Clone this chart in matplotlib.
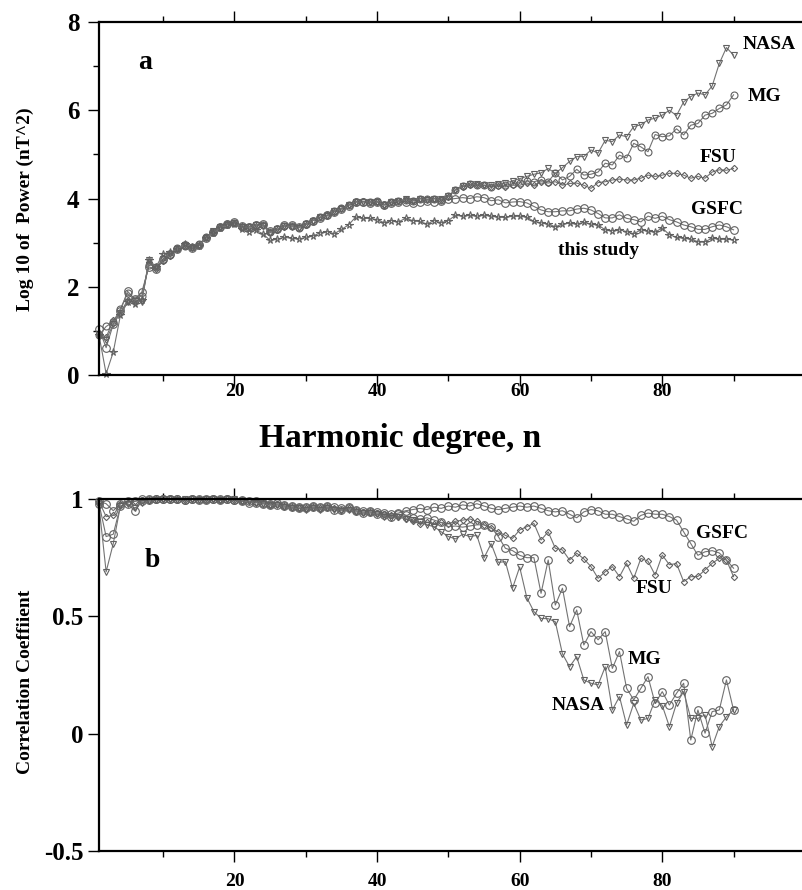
import numpy as np
import matplotlib
matplotlib.use("Agg")
import matplotlib.pyplot as plt
from matplotlib.ticker import MultipleLocator, FixedLocator

plt.rcParams["font.family"] = ["Liberation Serif", "DejaVu Serif"]
plt.rcParams["font.weight"] = "bold"

DEGREE = np.arange(1, 91)

# panel a: log10 power (nT^2)
POWER_GSFC = [
    1.05, 0.62, 1.15, 1.45, 1.9, 1.72, 1.88, 2.45, 2.4, 2.62,
    2.75, 2.85, 2.95, 2.88, 2.95, 3.1, 3.25, 3.35, 3.42, 3.46,
    3.38, 3.36, 3.4, 3.42, 3.26, 3.3, 3.4, 3.4, 3.36, 3.42,
    3.5, 3.56, 3.62, 3.7, 3.76, 3.84, 3.92, 3.93, 3.9, 3.92,
    3.86, 3.9, 3.92, 3.93, 3.9, 3.93, 3.95, 3.92, 3.95, 3.98,
    4.0, 4.02, 4.0, 4.04, 4.02, 3.95, 3.97, 3.9, 3.92, 3.93,
    3.9, 3.82, 3.74, 3.7, 3.7, 3.72, 3.72, 3.76, 3.78, 3.74,
    3.66, 3.56, 3.56, 3.63, 3.55, 3.52, 3.47, 3.6, 3.55, 3.6,
    3.52, 3.47, 3.4, 3.36, 3.3, 3.3, 3.36, 3.4, 3.36, 3.29,
]
POWER_MG = [
    0.9, 1.1, 1.2, 1.5, 1.85, 1.7, 1.8, 2.5, 2.45, 2.6,
    2.72, 2.88, 2.92, 2.9, 2.96, 3.12, 3.25, 3.36, 3.42, 3.45,
    3.36, 3.36, 3.4, 3.4, 3.24, 3.3, 3.38, 3.38, 3.34, 3.42,
    3.5, 3.58, 3.62, 3.72, 3.78, 3.86, 3.93, 3.93, 3.92, 3.94,
    3.86, 3.92, 3.95, 3.97, 3.95, 4.0, 3.98, 4.0, 3.97, 4.05,
    4.2, 4.28, 4.32, 4.3, 4.3, 4.26, 4.3, 4.3, 4.33, 4.36,
    4.4, 4.38, 4.42, 4.38, 4.58, 4.42, 4.5, 4.66, 4.53, 4.55,
    4.6, 4.8, 4.76, 4.98, 4.92, 5.25, 5.17, 5.06, 5.45, 5.4,
    5.42, 5.58, 5.44, 5.66, 5.7, 5.89, 5.93, 6.04, 6.12, 6.35,
]
POWER_FSU = [
    0.95, 0.85, 1.25, 1.4, 1.7, 1.65, 1.7, 2.55, 2.4, 2.58,
    2.7, 2.85, 2.93, 2.9, 2.94, 3.12, 3.24, 3.35, 3.42, 3.44,
    3.38, 3.35, 3.38, 3.4, 3.25, 3.28, 3.36, 3.38, 3.35, 3.4,
    3.5, 3.57, 3.62, 3.7, 3.78, 3.85, 3.92, 3.94, 3.92, 3.93,
    3.86, 3.92, 3.94, 3.97, 3.94, 4.0, 3.98, 4.0, 3.97, 4.04,
    4.2, 4.27, 4.3, 4.3, 4.3, 4.27, 4.28, 4.26, 4.3, 4.3,
    4.35, 4.3, 4.38, 4.35, 4.38, 4.3, 4.34, 4.35, 4.3, 4.23,
    4.36, 4.38, 4.42, 4.44, 4.42, 4.42, 4.46, 4.53, 4.5, 4.53,
    4.57, 4.57, 4.53, 4.46, 4.5, 4.46, 4.6, 4.65, 4.64, 4.68,
]
POWER_NASA = [
    0.85, 0.8, 1.15, 1.4, 1.65, 1.68, 1.65, 2.6, 2.45, 2.62,
    2.75, 2.85, 2.95, 2.88, 2.92, 3.1, 3.26, 3.35, 3.4, 3.45,
    3.36, 3.35, 3.4, 3.38, 3.22, 3.3, 3.38, 3.36, 3.33, 3.42,
    3.5, 3.58, 3.6, 3.72, 3.76, 3.85, 3.93, 3.92, 3.93, 3.93,
    3.85, 3.92, 3.95, 3.98, 3.95, 4.0, 3.97, 4.0, 3.98, 4.05,
    4.2, 4.28, 4.32, 4.32, 4.3, 4.3, 4.32, 4.35, 4.4, 4.45,
    4.5, 4.55, 4.58, 4.68, 4.57, 4.7, 4.84, 4.95, 4.95, 5.1,
    5.03, 5.32, 5.29, 5.44, 5.4, 5.63, 5.67, 5.78, 5.82, 5.89,
    6.0, 5.88, 6.19, 6.31, 6.39, 6.35, 6.55, 7.06, 7.42, 7.25,
]
POWER_THIS = [
    0.9, 0.03, 0.52, 1.35, 1.65, 1.62, 1.7, 2.6, 2.45, 2.75,
    2.78, 2.85, 2.98, 2.9, 2.92, 3.1, 3.22, 3.33, 3.4, 3.42,
    3.3, 3.25, 3.28, 3.2, 3.05, 3.08, 3.12, 3.1, 3.08, 3.12,
    3.15, 3.22, 3.25, 3.2, 3.3, 3.4, 3.58, 3.55, 3.55, 3.52,
    3.45, 3.5, 3.47, 3.55, 3.5, 3.48, 3.42, 3.5, 3.45, 3.5,
    3.62, 3.6, 3.62, 3.6, 3.62, 3.6, 3.58, 3.57, 3.6, 3.6,
    3.58, 3.48, 3.45, 3.42, 3.36, 3.42, 3.44, 3.42, 3.46, 3.42,
    3.4, 3.29, 3.27, 3.29, 3.25, 3.2, 3.29, 3.26, 3.24, 3.33,
    3.18, 3.12, 3.1, 3.08, 3.02, 3.02, 3.1, 3.08, 3.08, 3.06,
]

# panel b: correlation coefficient with this study
CORR_GSFC = [
    0.99, 0.98, 0.95, 0.98, 0.99, 0.99, 1.0, 1.0, 1.0, 1.0,
    1.0, 1.0, 0.995, 1.0, 1.0, 0.995, 1.0, 1.0, 1.0, 0.995,
    0.995, 0.99, 0.99, 0.985, 0.98, 0.985, 0.975, 0.97, 0.965, 0.965,
    0.97, 0.965, 0.97, 0.965, 0.96, 0.965, 0.955, 0.95, 0.95, 0.945,
    0.94, 0.935, 0.94, 0.95, 0.955, 0.96, 0.955, 0.965, 0.96, 0.97,
    0.965, 0.975, 0.97, 0.98, 0.97, 0.96, 0.955, 0.96, 0.965, 0.97,
    0.965, 0.97, 0.96, 0.95, 0.945, 0.95, 0.935, 0.92, 0.945, 0.955,
    0.95, 0.935, 0.935, 0.925, 0.915, 0.905, 0.93, 0.94, 0.935, 0.935,
    0.925, 0.91, 0.86, 0.81, 0.76, 0.775, 0.78, 0.77, 0.74, 0.705,
]
CORR_FSU = [
    0.99, 0.925, 0.93, 0.98, 0.985, 0.99, 0.995, 0.995, 1.0, 1.0,
    1.0, 1.0, 0.995, 1.0, 1.0, 0.995, 1.0, 0.995, 1.0, 0.995,
    0.99, 0.99, 0.985, 0.985, 0.975, 0.98, 0.97, 0.965, 0.96, 0.96,
    0.965, 0.96, 0.965, 0.96, 0.955, 0.96, 0.95, 0.945, 0.945, 0.94,
    0.935, 0.93, 0.925, 0.915, 0.905, 0.895, 0.9, 0.895, 0.9, 0.895,
    0.905, 0.91, 0.915, 0.905, 0.89, 0.875, 0.86, 0.845, 0.832, 0.868,
    0.882, 0.896, 0.825, 0.86, 0.79, 0.783, 0.74, 0.769, 0.745, 0.712,
    0.662, 0.69, 0.712, 0.669, 0.726, 0.662, 0.747, 0.735, 0.676, 0.761,
    0.72, 0.725, 0.648, 0.669, 0.67, 0.698, 0.726, 0.747, 0.74, 0.669,
]
CORR_MG = [
    0.98, 0.84, 0.85, 0.97, 0.98, 0.95, 0.99, 0.995, 1.0, 1.0,
    1.0, 1.0, 0.995, 1.0, 0.995, 1.0, 1.0, 0.995, 1.0, 0.995,
    0.99, 0.985, 0.985, 0.98, 0.975, 0.975, 0.97, 0.965, 0.96, 0.96,
    0.965, 0.96, 0.965, 0.955, 0.955, 0.96, 0.95, 0.94, 0.945, 0.935,
    0.93, 0.925, 0.935, 0.93, 0.92, 0.915, 0.92, 0.91, 0.9, 0.882,
    0.885, 0.88, 0.885, 0.89, 0.89, 0.88, 0.84, 0.79, 0.78, 0.76,
    0.75, 0.75, 0.598, 0.74, 0.548, 0.62, 0.456, 0.527, 0.378, 0.435,
    0.4, 0.435, 0.278, 0.35, 0.193, 0.144, 0.193, 0.243, 0.129, 0.179,
    0.122, 0.172, 0.215, -0.027, 0.101, 0.002, 0.094, 0.101, 0.229, 0.101,
]
CORR_NASA = [
    0.97, 0.69, 0.81, 0.97, 0.98, 0.96, 0.985, 0.99, 0.995, 1.0,
    1.0, 0.995, 1.0, 1.0, 0.995, 1.0, 1.0, 0.995, 1.0, 1.0,
    0.99, 0.99, 0.985, 0.98, 0.975, 0.975, 0.965, 0.96, 0.96, 0.955,
    0.96, 0.955, 0.96, 0.955, 0.95, 0.955, 0.945, 0.94, 0.94, 0.935,
    0.925, 0.92, 0.925, 0.915, 0.91, 0.9, 0.89, 0.882, 0.86, 0.84,
    0.83, 0.85, 0.84, 0.845, 0.749, 0.81, 0.73, 0.733, 0.62, 0.71,
    0.58, 0.52, 0.491, 0.49, 0.477, 0.34, 0.285, 0.328, 0.229, 0.215,
    0.208, 0.285, 0.101, 0.158, 0.037, 0.129, 0.058, 0.065, 0.144, 0.12,
    0.03, 0.129, 0.179, 0.065, 0.065, 0.08, -0.055, 0.03, 0.072, 0.101,
]

LINE_COLOR = "0.45"
MARK_COLOR = "0.38"


def draw(ax, y, marker, ms):
    ax.plot(DEGREE, y, color=LINE_COLOR, linewidth=0.8, marker=marker,
            markersize=ms, markerfacecolor="none", markeredgecolor=MARK_COLOR,
            markeredgewidth=0.8, clip_on=False)


def style_axes(ax, ylim, yticks, ylabels, ypad, xpad, minor_y):
    ax.set_xlim(1, 99.6)
    ax.set_ylim(*ylim)
    ax.spines["right"].set_visible(False)
    for s in ("left", "top", "bottom"):
        ax.spines[s].set_linewidth(1.6)
    ax.xaxis.set_major_locator(FixedLocator([20, 40, 60, 80]))
    ax.xaxis.set_minor_locator(FixedLocator([10, 30, 50, 70, 90]))
    ax.set_xticklabels(["20", "40", "60", "80"])
    ax.yaxis.set_major_locator(FixedLocator(yticks))
    ax.set_yticklabels(ylabels)
    if minor_y is not None:
        ax.yaxis.set_minor_locator(MultipleLocator(minor_y))
    ax.tick_params(axis="x", which="both", direction="out", top=True, bottom=True,
                   labelsize=14, pad=xpad)
    ax.tick_params(axis="y", which="both", direction="out", right=False,
                   labelsize=18, pad=ypad)
    ax.tick_params(which="major", length=8, width=1.0)
    ax.tick_params(which="minor", length=4, width=1.0)


fig = plt.figure(figsize=(8.02, 8.90), dpi=100)

# ---- panel a
ax1 = fig.add_axes([99 / 802, 1 - 375 / 890, 1 - 99 / 802, 353 / 890])
draw(ax1, POWER_GSFC, "o", 5.5)
draw(ax1, POWER_FSU, "D", 3.2)
draw(ax1, POWER_MG, "o", 5.0)
draw(ax1, POWER_NASA, "v", 4.0)
draw(ax1, POWER_THIS, "*", 5.5)
style_axes(ax1, (0, 8), [0, 2, 4, 6, 8], ["0", "2", "4", "6", "8"], 6, -2, 1)
ax1.set_ylabel("Log 10 of  Power (nT^2)", fontsize=14, fontweight="bold")
ax1.yaxis.set_label_coords(-0.092, 0.47)

lab = dict(fontsize=14, fontweight="bold", va="center")
ax1.text(91.3, 7.48, "NASA", ha="left", **lab)
ax1.text(92.0, 6.32, "MG", ha="left", **lab)
ax1.text(90.4, 4.94, "FSU", ha="right", **lab)
ax1.text(91.3, 3.74, "GSFC", ha="right", **lab)
ax1.text(71.0, 2.83, "this study", ha="center", **lab)
ax1.text(7.5, 7.09, "a", fontsize=20, fontweight="bold", ha="center", va="center")

fig.text(400 / 802, 1 - 438 / 890, "Harmonic degree, n", fontsize=24,
         fontweight="bold", ha="center", va="center")

# ---- panel b
ax2 = fig.add_axes([99 / 802, 1 - 851 / 890, 1 - 99 / 802, 352 / 890])
draw(ax2, CORR_GSFC, "o", 5.5)
draw(ax2, CORR_FSU, "D", 3.2)
draw(ax2, CORR_MG, "o", 5.5)
draw(ax2, CORR_NASA, "v", 4.0)
style_axes(ax2, (-0.5, 1), [-0.5, 0, 0.5, 1], ["-0.5", "0", "0.5", "1"], 3, 8, None)
ax2.set_ylabel("Correlation Coeffiient", fontsize=14, fontweight="bold")
ax2.yaxis.set_label_coords(-0.092, 0.48)

ax2.text(84.8, 0.855, "GSFC", ha="left", **lab)
ax2.text(76.2, 0.62, "FSU", ha="left", **lab)
ax2.text(75.1, 0.314, "MG", ha="left", **lab)
ax2.text(71.9, 0.122, "NASA", ha="right", **lab)
ax2.text(8.5, 0.74, "b", fontsize=20, fontweight="bold", ha="center", va="center")

fig.savefig("out.png", dpi=100)
